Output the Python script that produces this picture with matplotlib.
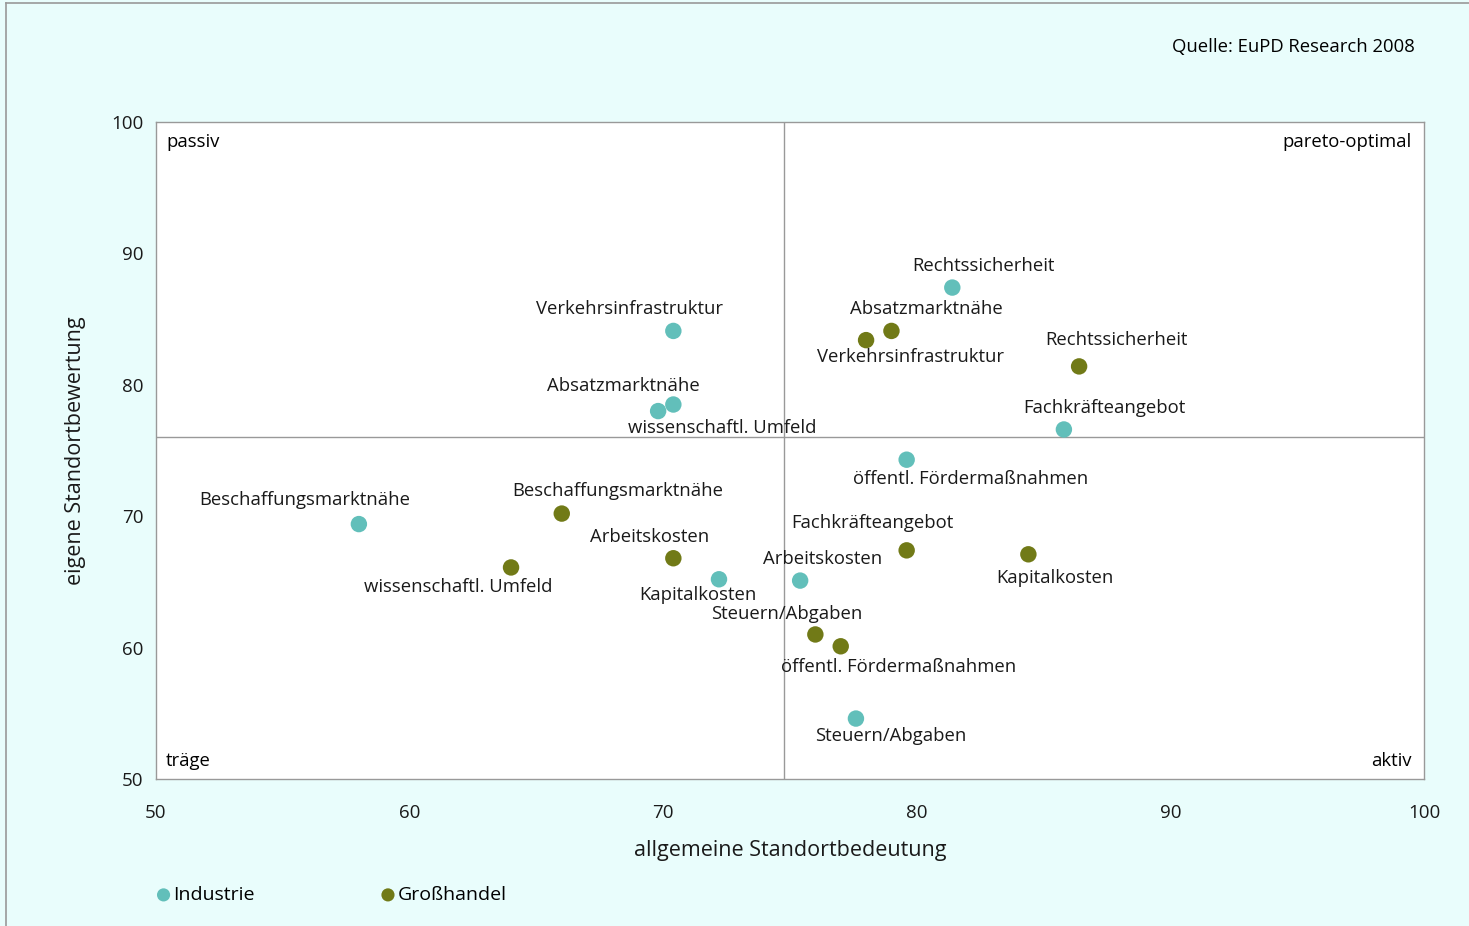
import matplotlib
matplotlib.use("Agg")
import matplotlib.pyplot as plt
from matplotlib.lines import Line2D

plt.rcParams['font.family'] = ['Open Sans', 'DejaVu Sans']

# data
ind_names = ['Beschaffungsmarktnähe', 'Verkehrsinfrastruktur', 'Absatzmarktnähe',
             'wissenschaftl. Umfeld', 'Kapitalkosten', 'Arbeitskosten',
             'Steuern/Abgaben', 'öffentl. Fördermaßnahmen', 'Rechtssicherheit',
             'Fachkräfteangebot']
ind_x = [58.0, 70.4, 70.4, 69.8, 72.2, 75.4, 77.6, 79.6, 81.4, 85.8]
ind_y = [69.4, 84.1, 78.5, 78.0, 65.2, 65.1, 54.6, 74.3, 87.4, 76.6]

gh_names = ['wissenschaftl. Umfeld', 'Beschaffungsmarktnähe', 'Arbeitskosten',
            'Steuern/Abgaben', 'öffentl. Fördermaßnahmen', 'Fachkräfteangebot',
            'Kapitalkosten', 'Verkehrsinfrastruktur', 'Absatzmarktnähe',
            'Rechtssicherheit']
gh_x = [64.0, 66.0, 70.4, 76.0, 77.0, 79.6, 84.4, 78.0, 79.0, 86.4]
gh_y = [66.1, 70.2, 66.8, 61.0, 60.1, 67.4, 67.1, 83.4, 84.1, 81.4]

x_mid = 74.75
y_mid = 76

# label offsets (pixels)
ind_off = [(-54, 24), (-44, 22), (-50, 19), (64, -17), (-21, -16), (22, 22),
           (35, -17), (64, -19), (31, 22), (40, 21)]
gh_off = [(-53, -20), (56, 23), (-24, 21), (-29, 20), (58, -21), (-34, 27),
          (27, -24), (44, -17), (35, 22), (37, 26)]

c_ind = '#62bfba'
c_gh = '#717a17'
bg = '#e9fdfc'
fs = 13.3

fig = plt.figure(figsize=(14.69, 9.26), dpi=100, facecolor=bg)
ax = fig.add_axes([156/1469, 1-779/926, (1424-156)/1469, (779-122)/926])
ax.set_facecolor('white')

ax.axvline(x_mid, color='#999999', lw=1, zorder=1)
ax.axhline(y_mid, color='#999999', lw=1, zorder=1)

ax.scatter(ind_x, ind_y, s=140, color=c_ind, edgecolors='none', zorder=3, label='Industrie')
ax.scatter(gh_x, gh_y, s=140, color=c_gh, edgecolors='none', zorder=3, label='Großhandel')

for name, x, y, off in zip(ind_names, ind_x, ind_y, ind_off):
    ax.annotate(name, (x, y), xytext=off, textcoords='offset pixels',
                ha='center', va='center', fontsize=fs, color='#1a1a1a', zorder=4)
for name, x, y, off in zip(gh_names, gh_x, gh_y, gh_off):
    ax.annotate(name, (x, y), xytext=off, textcoords='offset pixels',
                ha='center', va='center', fontsize=fs, color='#1a1a1a', zorder=4)

ax.set_xlim(50, 100)
ax.set_ylim(50, 100)
ax.set_xticks([50, 60, 70, 80, 90, 100])
ax.set_yticks([50, 60, 70, 80, 90, 100])
ax.tick_params(length=0, labelsize=13.5, colors='#1a1a1a')
ax.tick_params(axis='x', pad=18)
ax.tick_params(axis='y', pad=9)
for s in ax.spines.values():
    s.set_color('#999999')
    s.set_linewidth(1)

ax.set_xlabel('allgemeine Standortbedeutung', fontsize=15.5, color='#1a1a1a', labelpad=13)
ax.set_ylabel('eigene Standortbewertung', fontsize=15.5, color='#1a1a1a', labelpad=18)

# quadrant names
ax.text(0.008, 0.97, 'passiv', transform=ax.transAxes, ha='left', va='center', fontsize=fs)
ax.text(0.99, 0.97, 'pareto-optimal', transform=ax.transAxes, ha='right', va='center', fontsize=fs)
ax.text(0.008, 0.028, 'träge', transform=ax.transAxes, ha='left', va='center', fontsize=fs)
ax.text(0.99, 0.028, 'aktiv', transform=ax.transAxes, ha='right', va='center', fontsize=fs)

fig.text(1415/1469, 1-47/926, 'Quelle: EuPD Research 2008', ha='right', va='center', fontsize=fs)

fig.legend(loc='center left', bbox_to_anchor=(148/1469, 1-895/926), ncol=2, frameon=False,
           fontsize=14, markerscale=0.8, handletextpad=0.1, columnspacing=6.45,
           handlelength=0.8, borderaxespad=0)

# outer frame
fig.add_artist(Line2D([5.5/1469, 5.5/1469], [0, 1-3/926], color='#999999', lw=1.2))
fig.add_artist(Line2D([5.5/1469, 1], [1-3/926, 1-3/926], color='#999999', lw=1.2))

fig.savefig('out.png', dpi=100, facecolor=bg)
